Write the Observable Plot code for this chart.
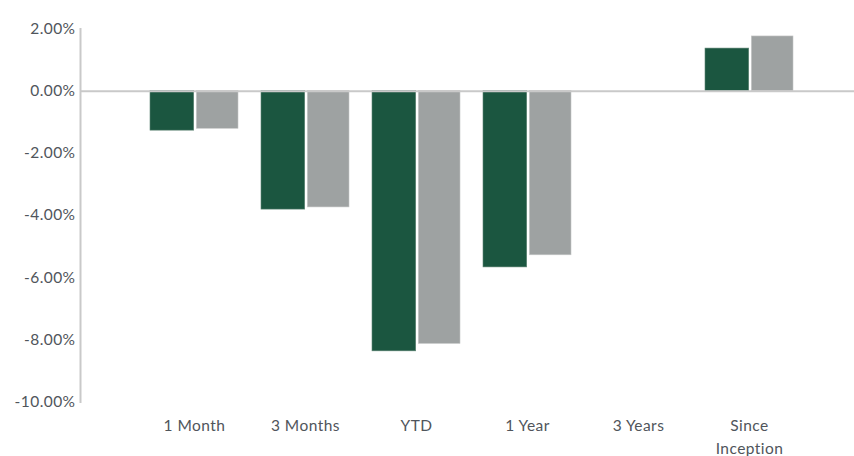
<!DOCTYPE html>
<html>
<head>
<meta charset="utf-8">
<script src="https://cdn.jsdelivr.net/npm/d3@7"></script>
<script src="https://cdn.jsdelivr.net/npm/@observablehq/plot@0.6"></script>
<style>
  html, body { margin: 0; padding: 0; background: #fff; }
  #chart { width: 854px; height: 456px; }
</style>
</head>
<body>
<div id="chart"></div>
<script>
const categories = ["1 Month", "3 Months", "YTD", "1 Year", "3 Years", "Since Inception"];
const fund = [-1.27, -3.81, -8.37, -5.67, null, 1.37];
const benchmark = [-1.21, -3.74, -8.13, -5.28, null, 1.76];
const yTicks = [2, 0, -2, -4, -6, -8, -10];

const rows = categories.map((c, i) => ({category: c, fund: fund[i], benchmark: benchmark[i]}));

const textColor = "#50555b";
const font = "Lato, 'Open Sans', sans-serif";

const chart = Plot.plot({
  width: 854,
  height: 456,
  marginLeft: 80,
  marginRight: 0,
  marginTop: 28.5,
  marginBottom: 54.5,
  style: {fontFamily: font, background: "#fff", letterSpacing: "0.45px"},
  x: {type: "band", domain: categories, range: [147.35, 795.05], paddingInner: 0.2066, paddingOuter: 0, axis: null, label: null},
  y: {domain: [-10, 2], axis: null, label: null},
  marks: [
    Plot.frame({anchor: "left", stroke: "#c9c9c9", strokeWidth: 2}),
    Plot.barY(rows, {x: "category", y: "fund", fill: "#1b5640", stroke: "#5f8474", strokeWidth: 0.6, insetLeft: 0, insetRight: 44.3}),
    Plot.barY(rows, {x: "category", y: "benchmark", fill: "#9ea2a2", stroke: "#c4c6c6", strokeWidth: 0.6, insetLeft: 46.35, insetRight: 0}),
    Plot.ruleY([0], {stroke: "#c9c9c9", strokeWidth: 2}),
    Plot.axisY({ticks: yTicks, tickSize: 0, tickPadding: 5, label: null, tickFormat: d => d.toFixed(2) + "%", fontSize: 15.5, fill: textColor}),
    Plot.axisX({tickSize: 0, tickPadding: 12, label: null, fontSize: 15.5, lineHeight: 1.5, fill: textColor, tickFormat: d => d === "Since Inception" ? "Since\nInception" : d})
  ]
});
document.getElementById("chart").appendChild(chart);
</script>
</body>
</html>
